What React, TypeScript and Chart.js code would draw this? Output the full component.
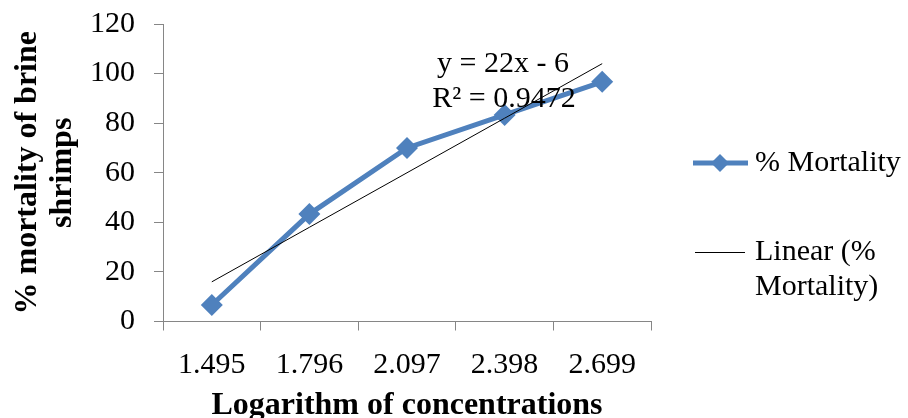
import React, { useEffect, useRef } from "react";
import { Chart, registerables } from "chart.js";

Chart.register(...registerables);

const categories = ["1.495", "1.796", "2.097", "2.398", "2.699"];
const mortality = [6.67, 43.33, 70, 83.33, 96.67];
const linearTrend = [16, 38, 60, 82, 104];
const equationLines = ["y = 22x - 6", "R² = 0.9472"];
const yTicks = [0, 20, 40, 60, 80, 100, 120];

const BLUE = "#4F81BD";
const AXIS = "#868686";
const SERIF = "'Liberation Serif', 'Times New Roman', serif";

const overlayPlugin = {
  id: "overlay",
  afterDraw(chart: any) {
    const ctx = chart.ctx;
    ctx.save();
    ctx.fillStyle = "#000";
    ctx.font = `30px ${SERIF}`;
    ctx.textBaseline = "middle";
    ctx.textAlign = "center";
    // trendline equation
    ctx.fillText(equationLines[0], 503, 64);
    ctx.fillText(equationLines[1], 504, 99);

    // legend
    ctx.textAlign = "left";
    ctx.strokeStyle = BLUE;
    ctx.lineWidth = 5;
    ctx.beginPath();
    ctx.moveTo(693, 163);
    ctx.lineTo(748, 163);
    ctx.stroke();
    ctx.fillStyle = BLUE;
    ctx.beginPath();
    ctx.moveTo(720, 154);
    ctx.lineTo(729, 163);
    ctx.lineTo(720, 172);
    ctx.lineTo(711, 163);
    ctx.closePath();
    ctx.fill();
    ctx.fillStyle = "#000";
    ctx.fillText(chart.data.datasets[0].label, 755, 163);

    ctx.strokeStyle = "#000";
    ctx.lineWidth = 1;
    ctx.beginPath();
    ctx.moveTo(695, 252.5);
    ctx.lineTo(745, 252.5);
    ctx.stroke();
    ctx.fillText("Linear (%", 755, 252);
    ctx.fillText("Mortality)", 755, 287);
    ctx.restore();
  },
};

export default function App() {
  const ref = useRef<HTMLCanvasElement>(null);
  useEffect(() => {
    if (!ref.current) return;
    const chart = new Chart(ref.current, {
      type: "line",
      data: {
        labels: categories,
        datasets: [
          {
            label: "% Mortality",
            data: mortality,
            borderColor: BLUE,
            backgroundColor: BLUE,
            borderWidth: 5,
            pointStyle: "rectRot",
            pointRadius: 11,
            pointBorderWidth: 0,
            pointBackgroundColor: BLUE,
            tension: 0,
            order: 2,
          },
          {
            label: "Linear (% Mortality)",
            data: linearTrend,
            borderColor: "#000",
            borderWidth: 1,
            pointRadius: 0,
            tension: 0,
            order: 1,
          },
        ],
      },
      options: {
        animation: false,
        responsive: false,
        devicePixelRatio: 1,
        layout: { padding: { top: 24, right: 257, left: 0, bottom: 0 } },
        plugins: { legend: { display: false }, tooltip: { enabled: false } },
        scales: {
          x: {
            type: "category",
            offset: true,
            afterFit: (s: any) => {
              s.height = 96.5;
              s.paddingLeft = 0;
              s.paddingRight = 0;
            },
            grid: {
              offset: true,
              drawOnChartArea: false,
              drawTicks: true,
              tickLength: 9,
              color: AXIS,
            },
            border: { display: true, color: AXIS, width: 1 },
            ticks: {
              color: "#000",
              font: { family: SERIF, size: 30 },
              padding: 17,
              maxRotation: 0,
            },
            title: {
              display: true,
              text: "Logarithm of concentrations",
              color: "#000",
              font: { family: SERIF, size: 32, weight: "bold", lineHeight: 0.75 },
              padding: { top: 0, bottom: 0 },
            },
          },
          y: {
            min: 0,
            max: 120,
            afterFit: (s: any) => {
              s.width = 163;
              s.paddingTop = 0;
              s.paddingBottom = 0;
            },
            afterBuildTicks: (s: any) => {
              s.ticks = yTicks.map((v) => ({ value: v }));
            },
            grid: {
              drawOnChartArea: false,
              drawTicks: true,
              tickLength: 9,
              color: AXIS,
            },
            border: { display: true, color: AXIS, width: 1 },
            ticks: {
              color: "#000",
              font: { family: SERIF, size: 30 },
              padding: 19,
            },
            title: {
              display: true,
              text: ["% mortality of brine", "shrimps"],
              color: "#000",
              font: { family: SERIF, size: 32, weight: "bold", lineHeight: 1.1 },
              padding: { top: 10, bottom: 0 },
            },
          },
        },
      },
      plugins: [overlayPlugin],
    });
    return () => chart.destroy();
  }, []);
  return (
    <div style={{ position: "fixed", left: 0, top: 0, width: 908, height: 418, background: "#fff" }}>
      <canvas ref={ref} width={908} height={418} style={{ width: 908, height: 418, display: "block" }} />
    </div>
  );
}
